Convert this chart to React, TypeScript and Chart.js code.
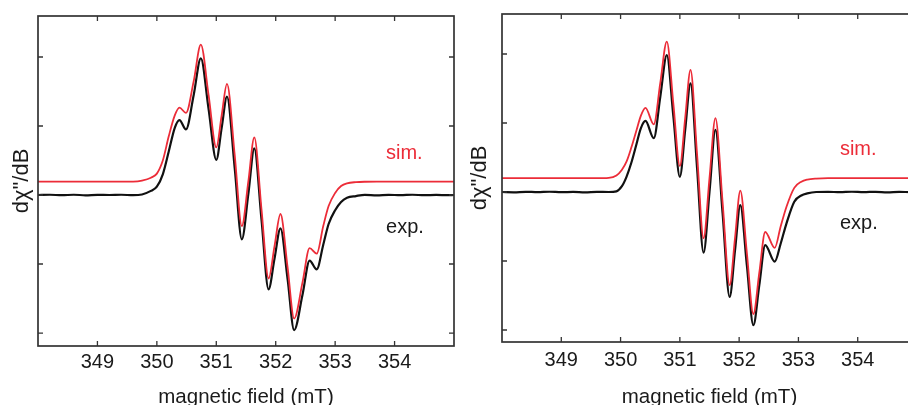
import React, { useEffect, useRef } from "react";
import { Chart, registerables } from "chart.js";

Chart.register(...registerables);

// ---------- data ----------
const xTickValues = [349, 350, 351, 352, 353, 354];
const yTickValues = [-2, -1, 0, 1, 2];

const leftField = [
  348.0, 348.2, 348.4, 348.6, 348.8, 349.0, 349.2, 349.4, 349.6, 349.75,
  349.9, 350.0, 350.1, 350.2, 350.3, 350.38, 350.49, 350.62, 350.74, 350.87,
  351.0, 351.09, 351.18, 351.31, 351.43, 351.54, 351.64, 351.76, 351.88, 351.98,
  352.08, 352.2, 352.31, 352.45, 352.57, 352.69, 352.8, 352.89, 353.0, 353.1,
  353.2, 353.35, 353.5, 353.7, 353.9, 354.1, 354.3, 354.5, 354.7, 354.9, 355.0,
];
const leftExp = [
  0.0, 0.004, -0.003, 0.004, -0.004, 0.002, 0.0, 0.004, -0.003, 0.008,
  0.06, 0.12, 0.3, 0.63, 0.97, 1.085, 0.95, 1.45, 1.98, 1.25,
  0.51, 0.97, 1.425, 0.39, -0.643, 0.02, 0.677, -0.35, -1.367, -0.92,
  -0.483, -1.22, -1.957, -1.45, -0.95, -1.077, -0.72, -0.42, -0.22, -0.1,
  -0.04, -0.015, 0.002, -0.004, 0.003, -0.002, 0.004, -0.003, 0.002, -0.003, 0.0,
];
const leftSim = [
  0.193, 0.193, 0.193, 0.193, 0.193, 0.193, 0.193, 0.193, 0.195, 0.21,
  0.25, 0.31, 0.5, 0.85, 1.15, 1.266, 1.19, 1.65, 2.18, 1.45,
  0.69, 1.15, 1.61, 0.58, -0.45, 0.2, 0.836, -0.2, -1.21, -0.74,
  -0.275, -1.05, -1.79, -1.27, -0.77, -0.85, -0.45, -0.16, 0.03, 0.13,
  0.17, 0.187, 0.192, 0.193, 0.193, 0.193, 0.193, 0.193, 0.193, 0.193, 0.193,
];

const rightField = [
  348.0, 348.2, 348.4, 348.6, 348.8, 349.0, 349.2, 349.4, 349.6, 349.8,
  349.93, 350.02, 350.1, 350.18, 350.27, 350.34, 350.42, 350.56, 350.67, 350.78,
  350.89, 351.0, 351.09, 351.18, 351.29, 351.4, 351.5, 351.6, 351.72, 351.84,
  351.93, 352.02, 352.13, 352.24, 352.34, 352.44, 352.6, 352.7, 352.8, 352.93,
  353.05, 353.15, 353.3, 353.5, 353.7, 353.9, 354.1, 354.3, 354.5, 354.7, 354.9, 355.0,
];
const rightExp = [
  0.0, -0.004, 0.003, -0.002, 0.004, -0.003, 0.002, -0.004, 0.003, 0.0,
  0.01, 0.08, 0.22, 0.42, 0.7, 0.92, 1.03, 0.78, 1.38, 1.985,
  1.1, 0.22, 0.9, 1.575, 0.35, -0.88, 0.0, 0.9, -0.3, -1.52,
  -0.85, -0.19, -1.06, -1.93, -1.35, -0.77, -1.01, -0.75, -0.45, -0.14,
  -0.05, -0.02, 0.0, 0.003, -0.003, 0.004, -0.002, 0.003, -0.004, 0.002, -0.002, 0.0,
];
const rightSim = [
  0.2, 0.2, 0.2, 0.2, 0.2, 0.2, 0.2, 0.2, 0.2, 0.205,
  0.24, 0.32, 0.44, 0.64, 0.9, 1.1, 1.22, 0.98, 1.58, 2.18,
  1.28, 0.377, 1.07, 1.77, 0.55, -0.67, 0.2, 1.07, -0.14, -1.35,
  -0.67, 0.02, -0.88, -1.77, -1.17, -0.58, -0.81, -0.5, -0.21, 0.06,
  0.15, 0.18, 0.195, 0.2, 0.2, 0.2, 0.2, 0.2, 0.2, 0.2, 0.2, 0.2,
];

const seriesNames = ["exp.", "sim."];

// ---------- style ----------
const FONT = "'Liberation Sans', Arial, sans-serif";
const RED = "rgb(236,44,56)";
const BLACK = "#111";
const FRAME = "#333";

type PanelCfg = {
  field: number[];
  exp: number[];
  sim: number[];
  yMin: number;
  yMax: number;
  canvasLeft: number;
  canvasWidth: number;
  padTop: number;
  padRight: number;
  yAxisWidth: number;
  xAxisHeight: number;
  tickPad: number;
  yTitlePad: number;
  labelX: number;
  simY: number;
  expY: number;
};

const framePlugin = {
  id: "frame",
  afterDatasetsDraw(chart: any, _args: any, opts: any) {
    const { ctx, chartArea } = chart;
    const { left, right, top, bottom } = chartArea;
    const xs = chart.scales.x;
    const ys = chart.scales.y;
    ctx.save();
    ctx.strokeStyle = FRAME;
    ctx.lineWidth = 1.3;
    ctx.beginPath();
    const tl = 5;
    xs.ticks.forEach((t: any) => {
      const px = xs.getPixelForValue(t.value);
      ctx.moveTo(px, bottom);
      ctx.lineTo(px, bottom - tl);
      ctx.moveTo(px, top);
      ctx.lineTo(px, top + tl);
    });
    ys.ticks.forEach((t: any) => {
      const py = ys.getPixelForValue(t.value);
      ctx.moveTo(left, py);
      ctx.lineTo(left + tl, py);
      ctx.moveTo(right, py);
      ctx.lineTo(right - tl, py);
    });
    ctx.stroke();
    ctx.lineWidth = 1.7;
    ctx.strokeRect(left, top, right - left, bottom - top);

    ctx.font = `20px ${FONT}`;
    ctx.textAlign = "left";
    ctx.textBaseline = "alphabetic";
    (opts.labels || []).forEach((l: any) => {
      ctx.fillStyle = l.color;
      ctx.fillText(l.text, xs.getPixelForValue(l.x), ys.getPixelForValue(l.y));
    });
    ctx.restore();
  },
};

function Panel({ cfg }: { cfg: PanelCfg }) {
  const ref = useRef<HTMLCanvasElement | null>(null);
  useEffect(() => {
    if (!ref.current) return;
    const chart = new Chart(ref.current, {
      type: "line",
      data: {
        datasets: [
          {
            label: seriesNames[0],
            data: cfg.field.map((x, i) => ({ x, y: cfg.exp[i] })),
            borderColor: BLACK,
            borderWidth: 2.2,
            pointRadius: 0,
            cubicInterpolationMode: "monotone",
            order: 2,
          },
          {
            label: seriesNames[1],
            data: cfg.field.map((x, i) => ({ x, y: cfg.sim[i] })),
            borderColor: RED,
            borderWidth: 1.8,
            pointRadius: 0,
            cubicInterpolationMode: "monotone",
            order: 1,
          },
        ],
      },
      options: {
        animation: false,
        responsive: false,
        devicePixelRatio: 1,
        layout: { padding: { top: cfg.padTop, right: cfg.padRight, left: 0, bottom: 0 } },
        plugins: {
          legend: { display: false },
          tooltip: { enabled: false },
          frame: {
            labels: [
              { text: seriesNames[1], x: cfg.labelX, y: cfg.simY, color: RED },
              { text: seriesNames[0], x: cfg.labelX, y: cfg.expY, color: "#1a1a1a" },
            ],
          },
        } as any,
        scales: {
          x: {
            type: "linear",
            min: 348,
            max: 355,
            grid: { display: false, drawTicks: false },
            border: { display: false },
            afterBuildTicks: (s: any) => {
              s.ticks = xTickValues.map((v) => ({ value: v }));
            },
            afterFit: (s: any) => {
              s.height = cfg.xAxisHeight;
            },
            ticks: {
              padding: cfg.tickPad,
              color: "#1a1a1a",
              font: { family: FONT, size: 20 },
              maxRotation: 0,
            },
            title: {
              display: true,
              text: "magnetic field (mT)",
              color: "#1a1a1a",
              font: { family: FONT, size: 20.5, lineHeight: 1 },
              padding: { top: 0, bottom: -3 },
            },
          },
          y: {
            type: "linear",
            min: cfg.yMin,
            max: cfg.yMax,
            grid: { display: false, drawTicks: false },
            border: { display: false },
            afterBuildTicks: (s: any) => {
              s.ticks = yTickValues.map((v) => ({ value: v }));
            },
            afterFit: (s: any) => {
              s.width = cfg.yAxisWidth;
            },
            ticks: { display: false },
            title: {
              display: true,
              text: 'dχ"/dB',
              color: "#1a1a1a",
              font: { family: FONT, size: 22, lineHeight: 1 },
              padding: { top: cfg.yTitlePad, bottom: 0 },
            },
          },
        },
      },
      plugins: [framePlugin],
    } as any);
    return () => chart.destroy();
  }, [cfg]);
  return (
    <canvas
      ref={ref}
      width={cfg.canvasWidth}
      height={405}
      style={{ position: "absolute", left: cfg.canvasLeft, top: 0, width: cfg.canvasWidth, height: 405 }}
    />
  );
}

const leftCfg: PanelCfg = {
  field: leftField,
  exp: leftExp,
  sim: leftSim,
  yMin: -2.188,
  yMax: 2.594,
  canvasLeft: 0,
  canvasWidth: 460,
  padTop: 16,
  padRight: 6,
  yAxisWidth: 38,
  xAxisHeight: 59,
  tickPad: 4,
  yTitlePad: 10.5,
  labelX: 353.856,
  simY: 0.517,
  expY: -0.555,
};

const rightCfg: PanelCfg = {
  field: rightField,
  exp: rightExp,
  sim: rightSim,
  yMin: -2.174,
  yMax: 2.58,
  canvasLeft: 460,
  canvasWidth: 470,
  padTop: 14,
  padRight: 13,
  yAxisWidth: 42,
  xAxisHeight: 63,
  tickPad: 6,
  yTitlePad: 9,
  labelX: 353.7,
  simY: 0.536,
  expY: -0.543,
};

export default function App() {
  return (
    <div
      style={{
        position: "fixed",
        left: 0,
        top: 0,
        width: 908,
        height: 405,
        overflow: "hidden",
        background: "#fff",
      }}
    >
      <Panel cfg={leftCfg} />
      <Panel cfg={rightCfg} />
    </div>
  );
}
